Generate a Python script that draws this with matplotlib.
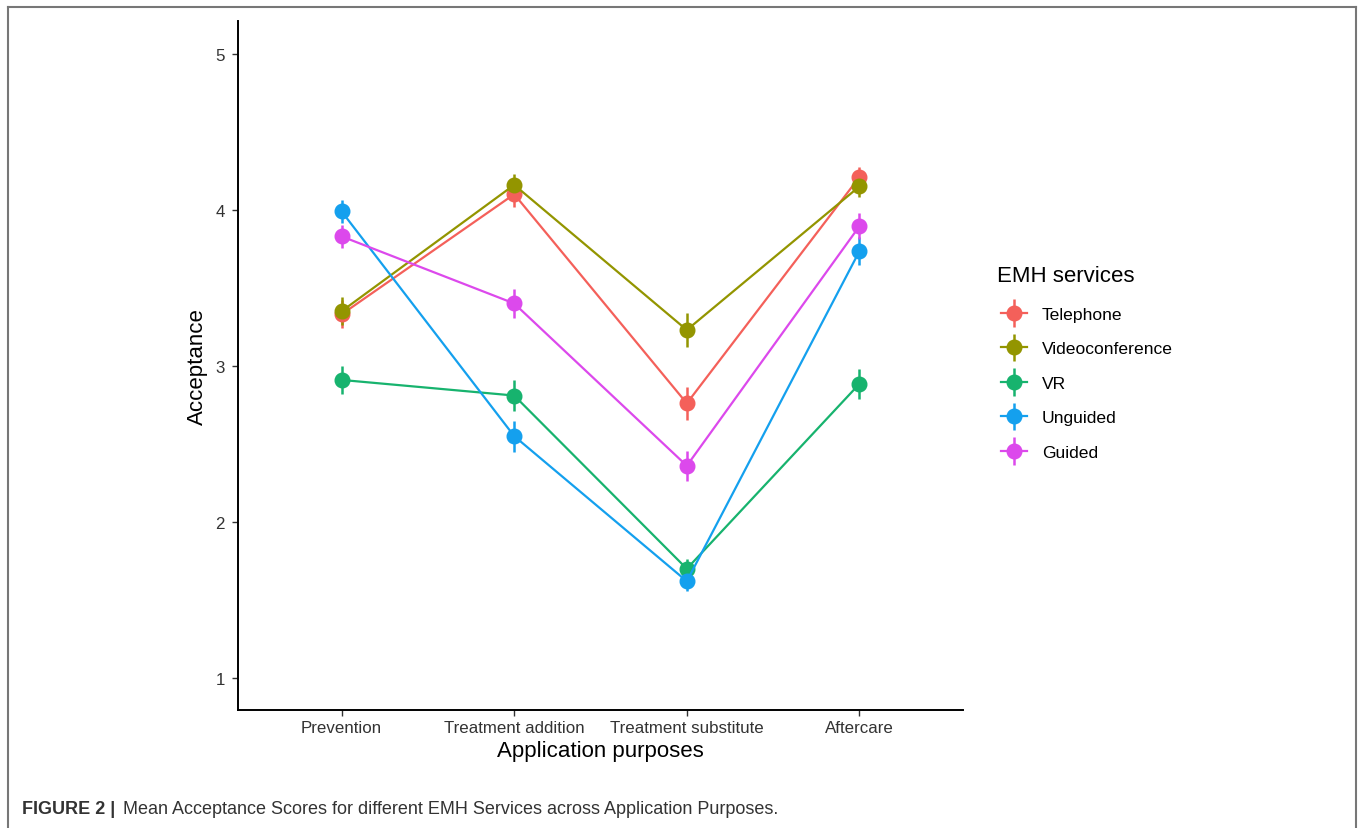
import matplotlib
matplotlib.use("Agg")
import matplotlib.pyplot as plt
from matplotlib.lines import Line2D
from matplotlib.container import ErrorbarContainer
from matplotlib.legend_handler import HandlerErrorbar

plt.rcParams['font.family'] = ['Liberation Sans', 'DejaVu Sans']

purposes = ["Prevention", "Treatment addition", "Treatment substitute", "Aftercare"]
services = ["Telephone", "Videoconference", "VR", "Unguided", "Guided"]
colors = ["#F4605A", "#939500", "#17B36E", "#14A0EE", "#DC49EC"]

telephone = [3.33, 4.10, 2.76, 4.21]
videoconference = [3.35, 4.16, 3.23, 4.15]
vr = [2.91, 2.81, 1.70, 2.885]
unguided = [3.99, 2.55, 1.62, 3.735]
guided = [3.83, 3.40, 2.36, 3.895]

telephone_err = [0.09, 0.08, 0.107, 0.065]
videoconference_err = [0.09, 0.07, 0.107, 0.07]
vr_err = [0.09, 0.10, 0.064, 0.094]
unguided_err = [0.075, 0.10, 0.064, 0.09]
guided_err = [0.073, 0.09, 0.096, 0.085]

means = [telephone, videoconference, vr, unguided, guided]
errs = [telephone_err, videoconference_err, vr_err, unguided_err, guided_err]

fig = plt.figure(figsize=(13.58, 8.29), dpi=100)
ax = fig.add_axes([238/1358, 1-711/829, (963-238)/1358, (711-22)/829])

x = list(range(1, len(purposes)+1))
for name, m, e, c in zip(services, means, errs, colors):
    ax.errorbar(x, m, yerr=e, color=c, lw=1.6, marker='o', ms=10.5,
                elinewidth=1.8, capsize=0, label=name, zorder=3)

ax.set_xlim(0.4, 4.6)
ax.set_ylim(0.795, 5.21)
ax.set_xticks(x)
ax.set_xticklabels(purposes)
ax.set_yticks([1, 2, 3, 4, 5])
ax.set_yticklabels(["1", "2", "3", "4", "5"])
ax.tick_params(axis='both', labelsize=12.2, colors='#333333', length=4, width=1.0,
               labelcolor='#333333')
ax.tick_params(axis='y', pad=5.5)
for s in ['top', 'right']:
    ax.spines[s].set_visible(False)
for s in ['left', 'bottom']:
    ax.spines[s].set_linewidth(1.4)
    ax.spines[s].set_color('black')
ax.set_xlabel("Application purposes", fontsize=16, labelpad=3)
ax.set_ylabel("Acceptance", fontsize=16)
ax.yaxis.set_label_coords(-0.042, 0.5)

fig.text(997/1358, 1-276/829, "EMH services", fontsize=16, va='center', ha='left')
leg = fig.legend(loc='upper left', bbox_to_anchor=(985/1358, 1-292/829),
                 fontsize=12.6, frameon=False, handlelength=1.5, labelspacing=1.1,
                 handletextpad=0.85, borderpad=0.4,
                 handler_map={ErrorbarContainer: HandlerErrorbar(xerr_size=0.5, yerr_size=0.78)})

# frame around the figure panel
fig.add_artist(Line2D([8/1358, 8/1358], [0, 1-8/829], transform=fig.transFigure, color='#777777', lw=1.5))
fig.add_artist(Line2D([8/1358, 1356/1358], [1-8/829, 1-8/829], transform=fig.transFigure, color='#777777', lw=1.5))
fig.add_artist(Line2D([1356/1358, 1356/1358], [0, 1-8/829], transform=fig.transFigure, color='#777777', lw=1.5))

fig.text(22/1358, 1-810/829, "FIGURE 2 |", fontsize=13, fontweight='bold', color='#333333',
         va='center', ha='left', family=['Liberation Sans Narrow', 'Liberation Sans', 'DejaVu Sans'])
fig.text(123/1358, 1-810/829, "Mean Acceptance Scores for different EMH Services across Application Purposes.",
         fontsize=13, color='#333333', va='center', ha='left',
         family=['Liberation Sans Narrow', 'Liberation Sans', 'DejaVu Sans'])

fig.savefig("out.png", dpi=100)
